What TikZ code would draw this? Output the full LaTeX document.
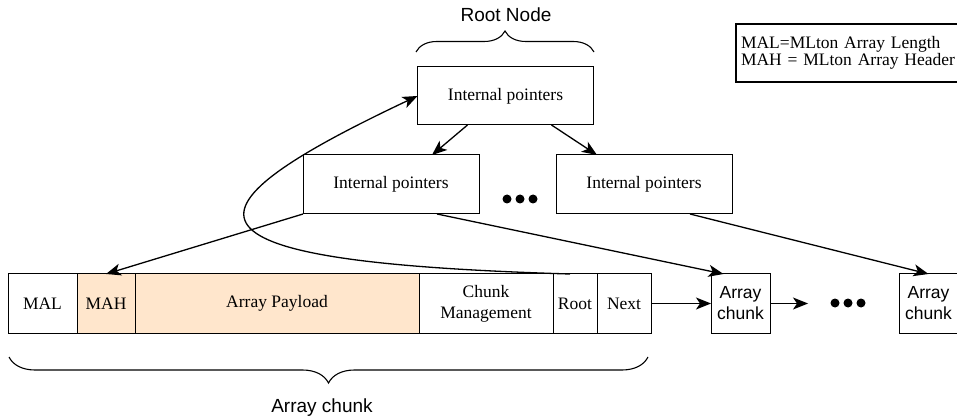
\documentclass[tikz,border=0pt]{standalone}
\usepackage{fontspec}
\setmainfont{Liberation Serif}
\setsansfont{Liberation Sans}
\usetikzlibrary{positioning,arrows.meta,decorations.pathreplacing}
\definecolor{payload}{HTML}{FFE6CC}

\begin{document}
\begin{tikzpicture}[x=1pt, y=-1pt,
    cell/.style={draw, line width=1pt, outer sep=0pt, minimum height=59pt, inner sep=2pt,
        align=center, font=\fontsize{17.5}{21}\selectfont},
    chunk/.style={cell, minimum width=59pt, font=\sffamily\fontsize{17.5}{21}\selectfont},
    ptrs/.style={cell, minimum width=176pt},
    link/.style={line width=1.3pt, -{Stealth[length=15pt, width=12pt, inset=4pt]}},
    curly/.style={line width=1.1pt, decorate, decoration={brace, amplitude=#1}},
    caption/.style={font=\sffamily\fontsize{19}{21}\selectfont}]
    \useasboundingbox (0,0) rectangle (957,419);

    \node[cell, minimum width=69pt] (mal) at (42.5,303.5) {MAL};
    \node[cell, minimum width=58pt, fill=payload, right=0pt of mal] (mah) {MAH};
    \node[cell, minimum width=284pt, fill=payload, right=0pt of mah] (pay) {Array Payload};
    \node[cell, minimum width=134pt, right=0pt of pay] (mgmt) {Chunk\\Management};
    \node[cell, minimum width=44pt, right=0pt of mgmt] (rootc) {Root};
    \node[cell, minimum width=54pt, right=0pt of rootc] (next) {Next};
    \node[chunk, right=60pt of next] (chunk1) {Array\\chunk};
    \node[chunk, right=129pt of chunk1] (chunk2) {Array\\chunk};
    \coordinate (more) at (808,303.5);

    \node[ptrs, minimum height=58pt] (root) at (505.5,96) {Internal pointers};
    \node[ptrs] (lptrs) at (391,184.5) {Internal pointers};
    \node[ptrs, right=77pt of lptrs] (rptrs) {Internal pointers};

    \coordinate (tdots) at (520,199);
    \coordinate (bdots) at (848,303);
    \foreach \d in {-13,0,13} {
        \fill ([xshift=\d pt]tdots) circle (4.5pt);
        \fill ([xshift=\d pt]bdots) circle (4.5pt);
    }

    \draw[link] ([xshift=-38pt]root.south) -- ([xshift=41pt]lptrs.north);
    \draw[link] ([xshift=46pt]root.south) -- ([xshift=-47pt]rptrs.north);
    \draw[link] (lptrs.south west) -- (mah.north);
    \draw[link] ([xshift=46pt]lptrs.south) -- ([xshift=-17pt]chunk1.north);
    \draw[link] ([xshift=46pt]rptrs.south) -- (chunk2.north);
    \draw[link] (next) -- (chunk1);
    \draw[link] (chunk1) -- (more);
    \draw[link] ([xshift=-5pt]rootc.north) .. controls (170,262) and (165,215) .. (root.west);

    \coordinate (rb1) at (416,52);
    \coordinate (rb2) at (594,52);
    \draw[curly=21pt] (rb1) -- (rb2);
    \node[caption] (rootlbl) at (506,15) {Root Node};

    \coordinate (cb1) at (9,357);
    \coordinate (cb2) at (648,357);
    \draw[curly=26pt] (cb2) -- (cb1);
    \node[caption] (chunklbl) at (322,408) {Array chunk};

    \node[draw, line width=2pt, anchor=north west, text width=222pt, minimum height=58pt,
        inner sep=5pt, align=left, font=\fontsize{17.5}{17}\selectfont] (legend) at (735,23)
        {MAL=MLton Array Length\\MAH = MLton Array Header};
\end{tikzpicture}
\end{document}
